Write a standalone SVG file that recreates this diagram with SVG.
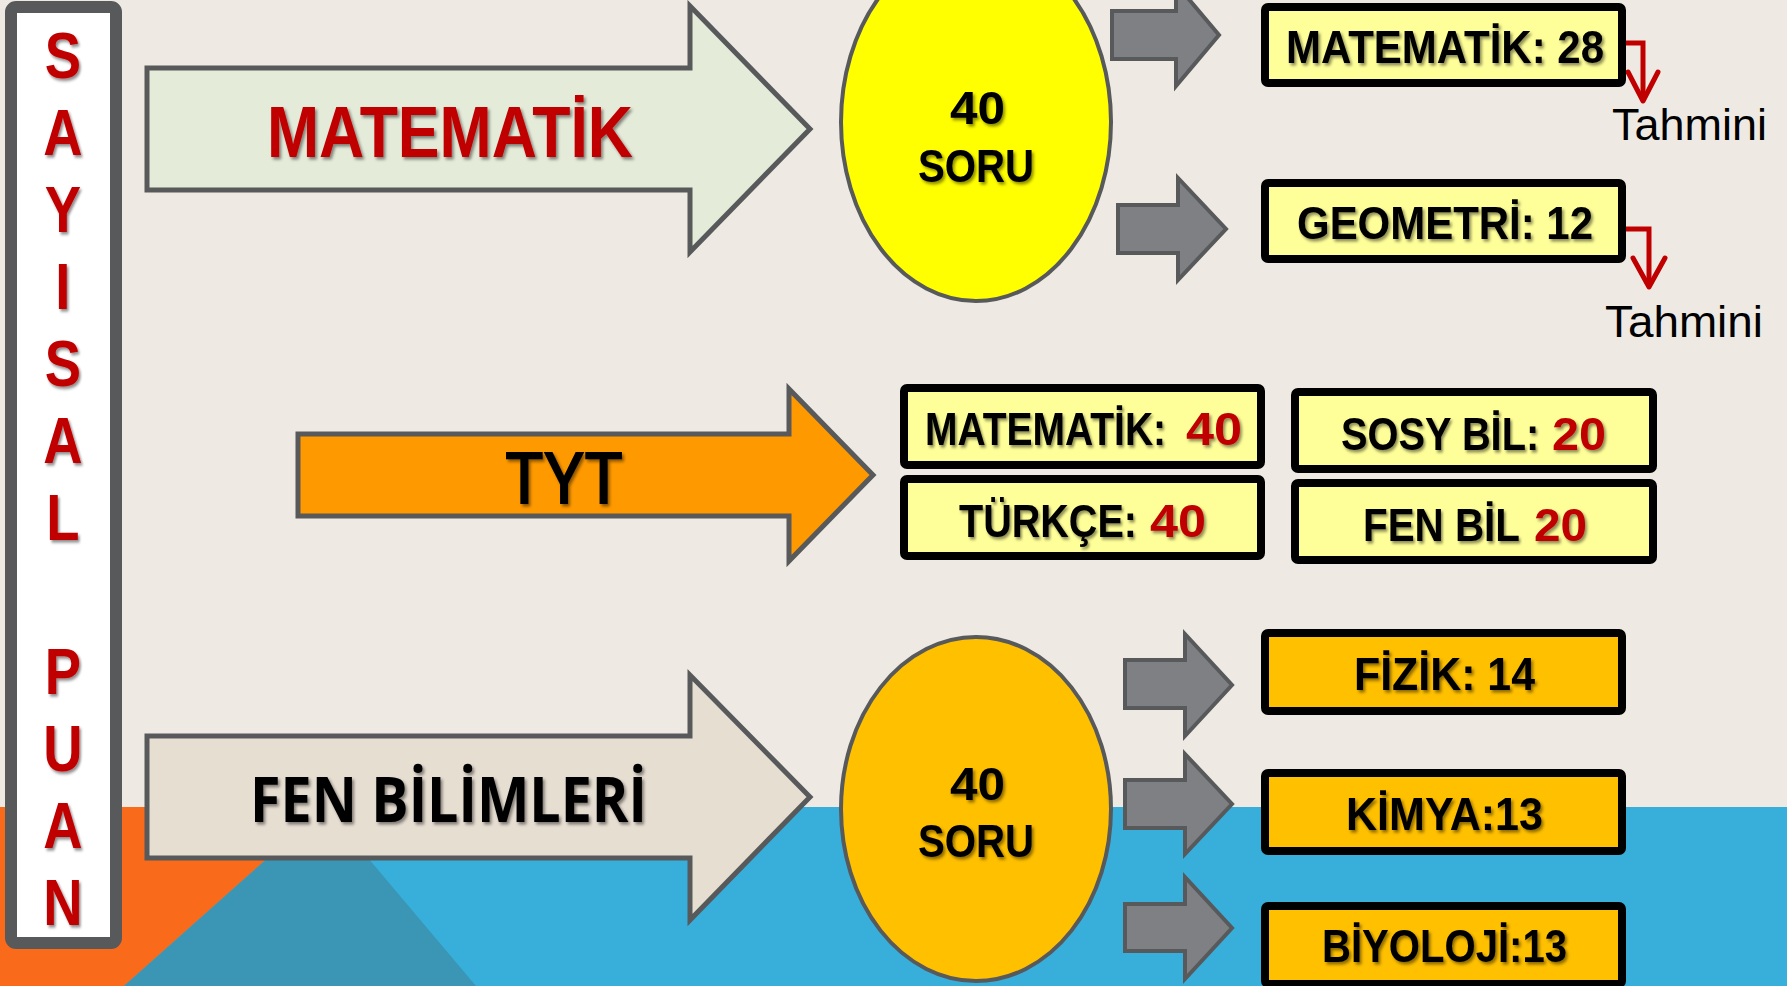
<svg xmlns="http://www.w3.org/2000/svg" width="1787" height="986" viewBox="0 0 1787 986">
<defs>
<style>
.bigarrow{stroke:#58595B;stroke-width:5;stroke-linejoin:miter}
.garrow{fill:#7F8084;stroke:#58595B;stroke-width:4}
.box{stroke:#000;stroke-width:8}
.ybox{fill:#FFFF99}
.obox{fill:#FFC000}
.bt{font-family:"Liberation Sans",Arial,sans-serif;font-weight:bold;font-size:46px;fill:#000}
.red{fill:#C00000}
.vl{font-family:"Liberation Sans",Arial,sans-serif;font-weight:bold;font-size:64px;fill:#C00000;text-anchor:middle}
.tah{font-family:"Liberation Sans",Arial,sans-serif;font-size:44px;fill:#000}
.rarrow{fill:none;stroke:#C00000;stroke-width:5}
</style>
<filter id="sh" x="-10%" y="-20%" width="130%" height="150%">
<feDropShadow dx="2" dy="2.5" stdDeviation="1.5" flood-color="#000" flood-opacity="0.45"/>
</filter>
</defs>

<g id="background">
<rect x="0" y="0" width="1787" height="986" fill="#EEEAE3"/>
<rect x="0" y="807" width="1787" height="179" fill="#38AFDB"/>
<polygon points="0,807 325,807 124,986 0,986" fill="#F96A1B"/>
<polygon points="325,807 476,986 124,986" fill="#3A96B4"/>
</g>

<g id="sayisal-puan">
<rect x="11" y="7" width="105" height="936" rx="5" fill="#FFFFFF" stroke="#58595B" stroke-width="12"/>
<g transform="scale(0.85,1)" filter="url(#sh)">
<text class="vl" x="74" y="78">S</text>
<text class="vl" x="74" y="155">A</text>
<text class="vl" x="74" y="232">Y</text>
<text class="vl" x="74" y="309">I</text>
<text class="vl" x="74" y="386">S</text>
<text class="vl" x="74" y="463">A</text>
<text class="vl" x="74" y="540">L</text>
<text class="vl" x="74" y="694">P</text>
<text class="vl" x="74" y="771">U</text>
<text class="vl" x="74" y="848">A</text>
<text class="vl" x="74" y="925">N</text>
</g>
</g>

<g id="matematik-arrow">
<polygon class="bigarrow" fill="#E4EBD9" points="147,68 690,68 690,6 810,129 690,252 690,190 147,190"/>
<text x="267" y="157" textLength="366" lengthAdjust="spacingAndGlyphs" filter="url(#sh)" style="font-family:'Liberation Sans',Arial,sans-serif;font-weight:bold;font-size:72px;fill:#C00000">MATEMATİK</text>
</g>

<g id="tyt-arrow">
<polygon class="bigarrow" fill="#FF9900" points="298,434 789,434 789,389 873,475 789,561 789,516 298,516"/>
<text x="505" y="504" textLength="118" lengthAdjust="spacingAndGlyphs" filter="url(#sh)" style="font-family:'Open Sans','Liberation Sans',sans-serif;font-weight:600;font-size:72px;fill:#000">TYT</text>
</g>

<g id="fen-arrow">
<polygon class="bigarrow" fill="#E7DED2" points="147,736 690,736 690,675 810,797 690,920 690,858 147,858"/>
<text x="250" y="822" textLength="397" lengthAdjust="spacingAndGlyphs" filter="url(#sh)" style="font-family:'Open Sans','Liberation Sans',sans-serif;font-weight:700;font-size:62px;fill:#000">FEN BİLİMLERİ</text>
</g>

<g id="mat-ellipse">
<ellipse cx="976" cy="122" rx="135" ry="179" fill="#FFFF00" stroke="#58595B" stroke-width="4"/>
<text class="bt" x="950" y="124" textLength="55" lengthAdjust="spacingAndGlyphs" filter="url(#sh)">40</text>
<text class="bt" x="918" y="182" textLength="116" lengthAdjust="spacingAndGlyphs" filter="url(#sh)">SORU</text>
</g>

<g id="fen-ellipse">
<ellipse cx="976" cy="809" rx="135" ry="172" fill="#FFC000" stroke="#58595B" stroke-width="4"/>
<text class="bt" x="950" y="800" textLength="55" lengthAdjust="spacingAndGlyphs" filter="url(#sh)">40</text>
<text class="bt" x="918" y="857" textLength="116" lengthAdjust="spacingAndGlyphs" filter="url(#sh)">SORU</text>
</g>

<g id="connectors">
<polygon class="garrow" points="1112,11 1176,11 1176,-16 1219,35 1176,86 1176,59 1112,59"/>
<polygon class="garrow" points="1118,205 1178,205 1178,178 1226,229 1178,280 1178,253 1118,253"/>
<polygon class="garrow" points="1125,660 1185,660 1185,634 1232,685 1185,736 1185,708 1125,708"/>
<polygon class="garrow" points="1125,780 1185,780 1185,754 1232,804 1185,854 1185,828 1125,828"/>
<polygon class="garrow" points="1125,904 1185,904 1185,877 1232,928 1185,979 1185,951 1125,951"/>
<path class="rarrow" d="M1626,43 H1643 V100"/>
<polyline class="rarrow" stroke-linecap="round" stroke-linejoin="round" points="1628,72 1643,101 1658,72"/>
<path class="rarrow" d="M1626,229 H1649 V286"/>
<polyline class="rarrow" stroke-linecap="round" stroke-linejoin="round" points="1633,258 1649,287 1665,258"/>
</g>

<g id="box-mat28">
<rect class="box ybox" x="1265" y="7" width="357" height="76" rx="3"/>
<text class="bt" x="1286" y="63" textLength="318" lengthAdjust="spacingAndGlyphs" filter="url(#sh)">MATEMATİK: 28</text>
</g>
<g id="box-geo12">
<rect class="box ybox" x="1265" y="183" width="357" height="76" rx="3"/>
<text class="bt" x="1297" y="239" textLength="296" lengthAdjust="spacingAndGlyphs" filter="url(#sh)">GEOMETRİ: 12</text>
</g>
<g id="tahmini-1">
<text class="tah" x="1612" y="140" textLength="155" lengthAdjust="spacingAndGlyphs">Tahmini</text>
</g>
<g id="tahmini-2">
<text class="tah" x="1605" y="337" textLength="158" lengthAdjust="spacingAndGlyphs">Tahmini</text>
</g>

<g id="box-tyt-mat">
<rect class="box ybox" x="904" y="388" width="357" height="77" rx="3"/>
<text class="bt" transform="translate(925,445) scale(0.848,1)" x="0" y="0" filter="url(#sh)">MATEMATİK:</text>
<text class="bt red" x="1186" y="445" textLength="56" lengthAdjust="spacingAndGlyphs" filter="url(#sh)">40</text>
</g>
<g id="box-tyt-turkce">
<rect class="box ybox" x="904" y="479" width="357" height="77" rx="3"/>
<text class="bt" transform="translate(959,537) scale(0.86,1)" x="0" y="0" filter="url(#sh)">TÜRKÇE:</text>
<text class="bt red" x="1150" y="537" textLength="56" lengthAdjust="spacingAndGlyphs" filter="url(#sh)">40</text>
</g>
<g id="box-tyt-sosy">
<rect class="box ybox" x="1295" y="392" width="358" height="77" rx="3"/>
<text class="bt" transform="translate(1341,450) scale(0.865,1)" x="0" y="0" filter="url(#sh)">SOSY BİL:</text>
<text class="bt red" x="1552" y="450" textLength="54" lengthAdjust="spacingAndGlyphs" filter="url(#sh)">20</text>
</g>
<g id="box-tyt-fen">
<rect class="box ybox" x="1295" y="483" width="358" height="77" rx="3"/>
<text class="bt" transform="translate(1363,541) scale(0.878,1)" x="0" y="0" filter="url(#sh)">FEN BİL</text>
<text class="bt red" x="1534" y="541" textLength="53" lengthAdjust="spacingAndGlyphs" filter="url(#sh)">20</text>
</g>

<g id="box-fizik">
<rect class="box obox" x="1265" y="633" width="357" height="78" rx="3"/>
<text class="bt" x="1354" y="690" textLength="181" lengthAdjust="spacingAndGlyphs" filter="url(#sh)">FİZİK: 14</text>
</g>
<g id="box-kimya">
<rect class="box obox" x="1265" y="773" width="357" height="78" rx="3"/>
<text class="bt" x="1346" y="830" textLength="197" lengthAdjust="spacingAndGlyphs" filter="url(#sh)">KİMYA:13</text>
</g>
<g id="box-biyoloji">
<rect class="box obox" x="1265" y="906" width="357" height="78" rx="3"/>
<text class="bt" x="1322" y="962" textLength="245" lengthAdjust="spacingAndGlyphs" filter="url(#sh)">BİYOLOJİ:13</text>
</g>
</svg>
